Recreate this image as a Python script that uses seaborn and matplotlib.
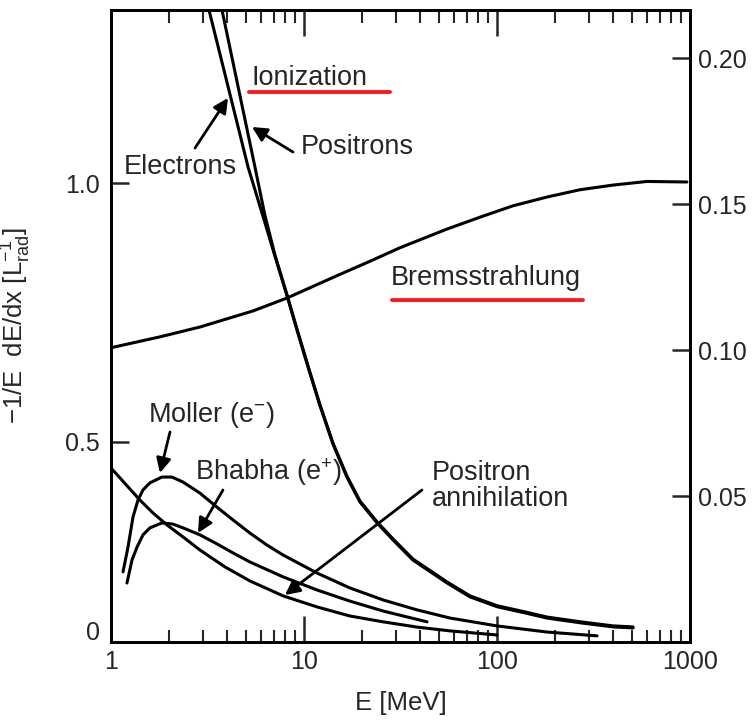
import matplotlib
matplotlib.use("Agg")
import matplotlib.pyplot as plt
import seaborn as sns
import pandas as pd

# --- values ---
# left axis: ionization and bremsstrahlung, -1/E dE/dx [1/L_rad]
ion_e_E = [3.22, 5.13, 6.13, 7.07, 8.17, 9.20, 10.49, 12.10, 14.13, 16.70, 19.51, 23.88, 28.91,
           36.7, 55.0, 72.4, 100, 139.6, 182, 269, 399, 507]
ion_e_L = [1.334, 1.031, 0.936, 0.859, 0.782, 0.716, 0.645, 0.570, 0.496, 0.432, 0.384, 0.344, 0.311,
           0.272, 0.228, 0.201, 0.182, 0.170, 0.160, 0.151, 0.143, 0.141]

ion_p_E = [3.76, 5.57, 6.27, 7.07, 8.17, 9.20, 10.49, 12.10, 14.13, 16.70, 19.51, 23.88, 28.91,
           36.7, 55.0, 72.4, 100, 139.6, 182, 269, 399, 507]
ion_p_L = [1.334, 1.031, 0.938, 0.861, 0.784, 0.718, 0.647, 0.572, 0.498, 0.434, 0.386, 0.346, 0.313,
           0.274, 0.230, 0.203, 0.184, 0.172, 0.162, 0.153, 0.145, 0.143]

brems_E = [1.0, 1.794, 2.89, 5.44, 8.17, 14.8, 22.0, 31.4, 55.0, 81.6, 121, 182, 269, 399, 598, 964]
brems_L = [0.682, 0.703, 0.722, 0.753, 0.778, 0.821, 0.849, 0.875, 0.911, 0.934, 0.956, 0.973, 0.987, 0.996, 1.003, 1.002]

# right axis: Moller, Bhabha, positron annihilation
moller_E = [1.154, 1.225, 1.30, 1.38, 1.465, 1.59, 1.837, 2.07, 2.36, 2.89, 3.54, 4.29, 5.25, 6.43,
            7.79, 11.7, 17.3, 25.7, 38.5, 57.1, 100, 182, 330]
moller_R = [0.0240, 0.0325, 0.0428, 0.0486, 0.0521, 0.0545, 0.0565, 0.0565, 0.0548, 0.0510, 0.0462, 0.0418,
            0.0373, 0.0332, 0.0298, 0.0236, 0.0185, 0.0144, 0.0110, 0.0082, 0.0055, 0.0034, 0.0021]

bhabha_E = [1.21, 1.285, 1.364, 1.465, 1.592, 1.837, 2.09, 2.36, 2.89, 3.54, 4.29, 5.25,
            7.79, 11.7, 17.3, 25.7, 43.4]
bhabha_R = [0.0202, 0.0281, 0.0325, 0.0367, 0.0391, 0.0408, 0.0404, 0.0391, 0.0367, 0.0336, 0.0305, 0.0274,
            0.0223, 0.0178, 0.0140, 0.0106, 0.0069]

annih_E = [1.0, 1.113, 1.413, 1.65, 1.95, 2.36, 2.89, 3.9, 5.25, 7.79, 11.7, 17.3, 25.7, 38.5, 57.1, 100]
annih_R = [0.0596, 0.0562, 0.0486, 0.0442, 0.0401, 0.0360, 0.0315, 0.0257, 0.0209, 0.0158, 0.0120, 0.0089,
           0.0069, 0.0051, 0.0038, 0.0024]

x_ticks = [1, 10, 100, 1000]
x_labels = ["1", "10", "100", "1000"]
left_ticks = [0.137, 0.5, 1.0]
left_labels = ["0", "0.5", "1.0"]
right_ticks = [0.05, 0.10, 0.15, 0.20]
right_labels = ["0.05", "0.10", "0.15", "0.20"]

sns.set_style("ticks")
plt.rcParams['font.family'] = ['Liberation Sans', 'DejaVu Sans']
plt.rcParams['mathtext.fontset'] = 'custom'
plt.rcParams['mathtext.rm'] = 'Liberation Sans'
plt.rcParams['mathtext.it'] = 'Liberation Sans:italic'

fig = plt.figure(figsize=(7.54, 7.21), dpi=100)
ax = fig.add_axes([0.1472, 0.1096, 0.7679, 0.8765])
ax2 = ax.twinx()

lw = 2.2
left_curves = [(ion_e_E, ion_e_L), (ion_p_E, ion_p_L), (brems_E, brems_L)]
right_curves = [(moller_E, moller_R), (bhabha_E, bhabha_R), (annih_E, annih_R)]
for E, v in left_curves:
    sns.lineplot(data=pd.DataFrame({"E": E, "v": v}), x="E", y="v", ax=ax, color="black", linewidth=lw)
for E, v in right_curves:
    sns.lineplot(data=pd.DataFrame({"E": E, "v": v}), x="E", y="v", ax=ax2, color="black", linewidth=lw)

ax.set_xscale("log")
ax.set_xlim(1, 1000)
ax.set_ylim(0.1139, 1.334)
ax2.set_ylim(0, 0.2165)

ax.set_xticks(x_ticks, labels=x_labels)
ax.set_yticks(left_ticks, labels=left_labels)
ax.yaxis.get_major_ticks()[0].tick1line.set_visible(False)
ax2.set_yticks(right_ticks, labels=right_labels)

ax.tick_params(axis="x", which="major", direction="in", length=19, width=1.8,
               top=True, bottom=True, labelsize=18, pad=6)
ax.tick_params(axis="x", which="minor", direction="in", length=9, width=1.5,
               top=True, bottom=True)
ax.tick_params(axis="y", direction="in", length=13, width=1.8, labelsize=18, pad=8)
ax2.tick_params(axis="y", direction="in", length=13, width=1.8, labelsize=18, pad=6)
for a in (ax, ax2):
    for s in a.spines.values():
        s.set_linewidth(2)
        s.set_color("black")

ax.set_xlabel("E [MeV]", fontsize=18.5)
ax.xaxis.set_label_coords(0.5, -0.078)
ax.set_ylabel("−1/E  dE/dx [$\\mathrm{L}_{\\mathrm{rad}}^{-1}$]", fontsize=18.5)
ax.yaxis.set_label_coords(-0.135, 0.5)
ax2.set_ylabel("")

fs = 19.5
af = "axes fraction"
arrow = dict(arrowstyle="-|>", color="black", lw=2, mutation_scale=22, shrinkA=0, shrinkB=0)
red = dict(arrowstyle="-", color="#ff1a1a", lw=2.8, shrinkA=0, shrinkB=0)

ax.text(0.2435, 0.8924, "Ionization", transform=ax.transAxes, fontsize=fs, ha="left", va="center")
ax.annotate("", xy=(0.4819, 0.8703), xytext=(0.2383, 0.8703), xycoords=af, arrowprops=red)

ax.text(0.1192, 0.7516, "Electrons", transform=ax.transAxes, fontsize=fs, ha="center", va="center")
ax.annotate("", xy=(0.2021, 0.8608), xytext=(0.1451, 0.7816), xycoords=af, arrowprops=arrow)

ax.text(0.4249, 0.7832, "Positrons", transform=ax.transAxes, fontsize=fs, ha="center", va="center")
ax.annotate("", xy=(0.2435, 0.8149), xytext=(0.3143, 0.7753), xycoords=af, arrowprops=arrow)

ax.text(0.6477, 0.5759, "Bremsstrahlung", transform=ax.transAxes, fontsize=fs, ha="center", va="center")
ax.annotate("", xy=(0.8152, 0.5411), xytext=(0.4853, 0.5411), xycoords=af, arrowprops=red)

ax.text(0.1744, 0.3592, "Moller (e$^{-}$)", transform=ax.transAxes, fontsize=fs, ha="center", va="center")
ax.annotate("", xy=(0.0846, 0.2674), xytext=(0.1019, 0.3323), xycoords=af, arrowprops=arrow)

ax.text(0.2712, 0.2690, "Bhabha (e$^{+}$)", transform=ax.transAxes, fontsize=fs, ha="center", va="center")
ax.annotate("", xy=(0.1503, 0.1725), xytext=(0.1934, 0.2405), xycoords=af, arrowprops=arrow)

ax.text(0.5544, 0.2476, "Positron\nannihilation", transform=ax.transAxes, fontsize=fs,
        ha="left", va="center", linespacing=1.0)
ax.annotate("", xy=(0.3005, 0.0744), xytext=(0.5371, 0.2405), xycoords=af, arrowprops=arrow)

fig.savefig("out.png", dpi=100)
